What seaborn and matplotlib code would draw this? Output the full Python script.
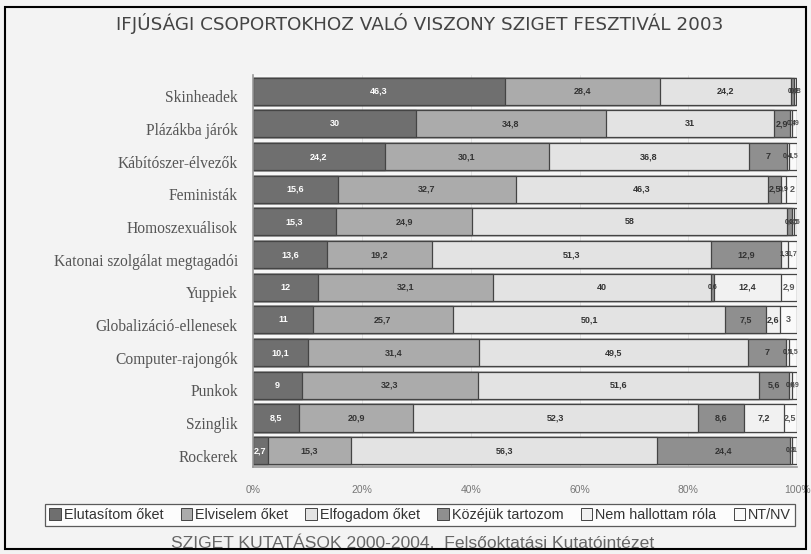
import matplotlib
matplotlib.use("Agg")
import matplotlib.pyplot as plt
import matplotlib.transforms as mtransforms
import seaborn as sns
import numpy as np
import pandas as pd
from matplotlib.patches import Rectangle, Patch

categories = ["Skinheadek", "Plázákba járók", "Kábítószer-élvezők", "Feministák",
              "Homoszexuálisok", "Katonai szolgálat megtagadói", "Yuppiek",
              "Globalizáció-ellenesek", "Computer-rajongók", "Punkok", "Szinglik", "Rockerek"]
series_names = ["Elutasítom őket", "Elviselem őket", "Elfogadom őket",
                "Közéjük tartozom", "Nem hallottam róla", "NT/NV"]
elutasitom = [46.3, 30, 24.2, 15.6, 15.3, 13.6, 12, 11, 10.1, 9, 8.5, 2.7]
elviselem = [28.4, 34.8, 30.1, 32.7, 24.9, 19.2, 32.1, 25.7, 31.4, 32.3, 20.9, 15.3]
elfogadom = [24.2, 31, 36.8, 46.3, 58, 51.3, 40, 50.1, 49.5, 51.6, 52.3, 56.3]
kozejuk = [0.6, 2.9, 7, 2.5, 0.8, 12.9, 0.6, 7.5, 7, 5.6, 8.6, 24.4]
nem_hallottam = [0.2, 0.4, 0.4, 0.9, 0.5, 1.3, 12.4, 2.6, 0.5, 0.6, 7.2, 0.3]
ntnv = [0.3, 0.9, 1.5, 2, 0.5, 1.7, 2.9, 3, 1.5, 0.9, 2.5, 1]
tick_labels = ["0%", "20%", "40%", "60%", "80%", "100%"]

colors = ["#6f6f6f", "#ababab", "#e3e3e3", "#8f8f8f", "#f1f1f1", "#fafafa"]
text_colors = ["white", "#333333", "#333333", "#333333", "#333333", "#555555"]

series = [elutasitom, elviselem, elfogadom, kozejuk, nem_hallottam, ntnv]
vals = np.array(series, dtype=float)
cum = np.cumsum(vals, axis=0)

sns.set_style("white")
plt.rcParams['font.family'] = ['Liberation Sans', 'DejaVu Sans']

fig = plt.figure(figsize=(8.11, 5.54), dpi=100)
fig.patch.set_facecolor("#f3f3f3")
ax = fig.add_axes([0.312, 0.157, 0.671, 0.708])
ax.set_facecolor("#f7f7f7")

# stacked layers: draw cumulative totals from largest to smallest
for k in range(len(series) - 1, -1, -1):
    df = pd.DataFrame({"cat": categories, "val": cum[k]})
    sns.barplot(data=df, x="val", y="cat", orient="h", color=colors[k],
                saturation=1, edgecolor="#444444", linewidth=0.9,
                width=0.83, ax=ax, zorder=2)

for k in range(len(series)):
    for i, v in enumerate(vals[k]):
        center = cum[k][i] - v / 2
        txt = f"{v:g}".replace(".", ",")
        fs = 6.5 if v >= 2 else 5
        ax.text(center, i, txt, ha="center", va="center", fontsize=fs,
                color=text_colors[k], fontweight="bold", zorder=5)

ax.set_xlim(0, 100)
ax.set_ylim(11.5, -0.5)
ax.set_xticks([0, 20, 40, 60, 80, 100])
ax.set_xticklabels(tick_labels, fontsize=7.5, color="#777777")
ax.set_yticks(range(len(categories)))
ax.set_yticklabels(categories, fontsize=11.2, color="#555555", family="Liberation Serif")
ax.tick_params(axis="x", pad=13, length=0)
ax.tick_params(axis="y", pad=11, length=0)
offset = mtransforms.ScaledTranslation(0, -5 / 100, fig.dpi_scale_trans)
for lab in ax.get_yticklabels():
    lab.set_transform(lab.get_transform() + offset)
ax.set_xlabel("")
ax.set_ylabel("")
ax.xaxis.grid(True, color="#e0e0e0", linewidth=0.6, zorder=0)
ax.set_axisbelow(True)
for s in ["top", "right"]:
    ax.spines[s].set_visible(False)
ax.spines["left"].set_color("#999999")
ax.spines["bottom"].set_color("#999999")
ax.spines["left"].set_linewidth(1.2)
ax.spines["bottom"].set_linewidth(1.2)

handles = [Patch(facecolor=colors[k], edgecolor="#444444", linewidth=0.7) for k in range(6)]
leg = fig.legend(handles, series_names, loc="center", bbox_to_anchor=(0.518, 1 - 515 / 554),
                 ncol=6, frameon=True, fontsize=10.4, handlelength=0.8, handleheight=0.8,
                 handletextpad=0.2, columnspacing=1.2, borderpad=0.3,
                 fancybox=False, edgecolor="#333333")
leg.get_frame().set_facecolor("white")
leg.get_frame().set_linewidth(0.9)
for t in leg.get_texts():
    t.set_color("#333333")

fig.text(0.518, 1 - 24 / 554, "IFJÚSÁGI CSOPORTOKHOZ VALÓ VISZONY SZIGET FESZTIVÁL 2003",
         ha="center", va="center", fontsize=13.2, color="#444444", family="DejaVu Sans")
fig.text(0.509, 1 - 544 / 554, "SZIGET KUTATÁSOK 2000-2004.  Felsőoktatási Kutatóintézet",
         ha="center", va="center", fontsize=12.6, color="#666666")

fig.patches.append(Rectangle((5 / 811, 5 / 554), 1 - 10 / 811, 1 - 12 / 554,
                             transform=fig.transFigure, fill=False,
                             edgecolor="black", linewidth=1.5))

fig.savefig("out.png", dpi=100, facecolor=fig.get_facecolor())
